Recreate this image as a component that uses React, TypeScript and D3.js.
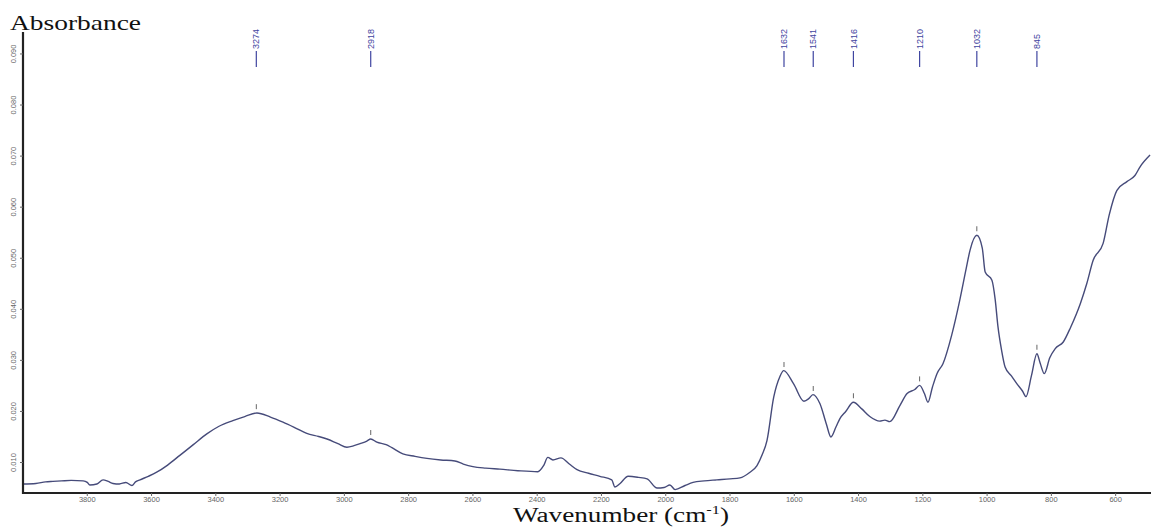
import React, { useEffect, useRef } from 'react';
import * as d3 from 'd3';

const wavenumbers = [
  4000, 3960, 3930, 3907, 3880, 3850, 3813, 3800, 3792, 3770, 3751, 3735, 3720, 3700, 3680, 3661, 3650, 3636,
  3610, 3584, 3550, 3512, 3470, 3428, 3390, 3347, 3310, 3272, 3230, 3191, 3150, 3117, 3080, 3054, 3020, 2992,
  2970, 2951, 2930, 2918, 2899, 2870, 2852, 2818, 2780, 2743, 2700, 2656, 2630, 2600, 2560, 2516, 2460, 2398,
  2380, 2367, 2351, 2326, 2300, 2276, 2240, 2205, 2168, 2158, 2142, 2117, 2085, 2058, 2027, 2005, 1987, 1971,
  1940, 1915, 1880, 1841, 1800, 1769, 1740, 1716, 1700, 1685, 1664, 1645, 1633, 1602, 1570, 1555, 1542, 1520,
  1500, 1486, 1470, 1458, 1440, 1416, 1390, 1365, 1334, 1318, 1303, 1271, 1249, 1225, 1210, 1195, 1184, 1170,
  1156, 1137, 1110, 1085, 1065, 1053, 1032, 1015, 1006, 985, 975, 966, 955, 944, 925, 907, 890, 879,
  862, 845, 835, 822, 805, 788, 763, 740, 710, 690, 670, 639, 620, 596, 565, 540, 524, 493,
];

const absorbance = [
  0.0058, 0.0059, 0.0062, 0.0063, 0.0064, 0.0065, 0.0064, 0.0061, 0.0056, 0.0058, 0.0066, 0.0063, 0.0059, 0.0058, 0.0061, 0.0055, 0.0062, 0.0066,
  0.0073, 0.0081, 0.0095, 0.0114, 0.0135, 0.0156, 0.0171, 0.0182, 0.0190, 0.0197, 0.0189, 0.0179, 0.0167, 0.0157, 0.0151, 0.0146, 0.0137, 0.0130,
  0.0133, 0.0137, 0.0142, 0.0146, 0.0140, 0.0135, 0.0129, 0.0117, 0.0112, 0.0108, 0.0105, 0.0103, 0.0097, 0.0092, 0.0089, 0.0087, 0.0084, 0.0082,
  0.0094, 0.0110, 0.0105, 0.0109, 0.0097, 0.0086, 0.0079, 0.0073, 0.0066, 0.0052, 0.0059, 0.0073, 0.0071, 0.0068, 0.0050, 0.0051, 0.0056, 0.0047,
  0.0055, 0.0061, 0.0064, 0.0066, 0.0068, 0.0070, 0.0080, 0.0094, 0.0115, 0.0143, 0.0228, 0.0268, 0.0280, 0.0254, 0.0220, 0.0225, 0.0233, 0.0215,
  0.0175, 0.0150, 0.0170, 0.0186, 0.0200, 0.0218, 0.0205, 0.0190, 0.0181, 0.0183, 0.0180, 0.0212, 0.0235, 0.0243, 0.0251, 0.0235, 0.0218, 0.0248,
  0.0274, 0.0294, 0.0350, 0.0418, 0.0480, 0.0516, 0.0545, 0.0520, 0.0473, 0.0457, 0.0420, 0.0365, 0.0320, 0.0287, 0.0270, 0.0254, 0.0240, 0.0229,
  0.0270, 0.0313, 0.0295, 0.0274, 0.0305, 0.0323, 0.0336, 0.0365, 0.0411, 0.0450, 0.0496, 0.0529, 0.0585, 0.0633, 0.0650, 0.0662, 0.0679, 0.0702,
];

const peakLabels = [3274, 2918, 1632, 1541, 1416, 1210, 1032, 845];
const xTicks = [3800, 3600, 3400, 3200, 3000, 2800, 2600, 2400, 2200, 2000, 1800, 1600, 1400, 1200, 1000, 800, 600];
const yTicks = [0.01, 0.02, 0.03, 0.04, 0.05, 0.06, 0.07, 0.08, 0.09];

const W = 1151;
const H = 527;

export default function App() {
  const ref = useRef<SVGSVGElement>(null);

  useEffect(() => {
    if (!ref.current) return;
    const svg = d3.select(ref.current);
    svg.selectAll('*').remove();

    const left = 23;
    const right = W;
    const top = 32;
    const bottom = 493;

    const x = d3.scaleLinear().domain([4000, 490]).range([left, right]);
    const y = d3.scaleLinear().domain([0.00403, 0.0943]).range([bottom, top]);

    svg.append('rect').attr('width', W).attr('height', H).attr('fill', '#fff');

    // title
    svg.append('text')
      .attr('x', 10).attr('y', 30)
      .attr('textLength', 131).attr('lengthAdjust', 'spacingAndGlyphs')
      .style('font-family', '"Liberation Serif", "Times New Roman", serif')
      .style('font-size', '22px')
      .style('fill', '#111')
      .text('Absorbance');

    // x label
    const xl = svg.append('text')
      .attr('x', 513).attr('y', 522)
      .attr('textLength', 216).attr('lengthAdjust', 'spacingAndGlyphs')
      .style('font-family', '"Liberation Serif", "Times New Roman", serif')
      .style('font-size', '20px')
      .style('fill', '#111');
    xl.append('tspan').text('Wavenumber (cm');
    xl.append('tspan').attr('dy', -8).style('font-size', '12px').text('-1');
    xl.append('tspan').attr('dy', 8).text(')');

    // spectrum
    const pts: [number, number][] = wavenumbers.map((w, i) => [w, absorbance[i]]);
    const line = d3.line<[number, number]>()
      .x(d => x(d[0]))
      .y(d => y(d[1]))
      .curve(d3.curveMonotoneX);
    svg.append('path')
      .datum(pts)
      .attr('d', line)
      .attr('fill', 'none')
      .attr('stroke', '#464b7a')
      .attr('stroke-width', 1.4);

    // axes
    const axisColor = '#222';
    svg.append('line')
      .attr('x1', left).attr('x2', left).attr('y1', top).attr('y2', bottom + 1)
      .attr('stroke', axisColor).attr('stroke-width', 2.2);
    svg.append('line')
      .attr('x1', left - 1).attr('x2', right).attr('y1', bottom).attr('y2', bottom)
      .attr('stroke', axisColor).attr('stroke-width', 2.2);

    const tickFont = '"Liberation Sans Narrow", "Liberation Sans", Arial, sans-serif';

    xTicks.forEach(t => {
      svg.append('line')
        .attr('x1', x(t)).attr('x2', x(t)).attr('y1', bottom).attr('y2', bottom + 3)
        .attr('stroke', '#666').attr('stroke-width', 1);
      svg.append('text')
        .attr('x', x(t)).attr('y', 502)
        .attr('text-anchor', 'middle')
        .style('font-family', tickFont)
        .style('font-size', '7.5px')
        .style('fill', '#666')
        .text(String(t));
    });

    yTicks.forEach(t => {
      svg.append('line')
        .attr('x1', left - 3).attr('x2', left).attr('y1', y(t)).attr('y2', y(t))
        .attr('stroke', '#666').attr('stroke-width', 1);
      svg.append('text')
        .attr('transform', `translate(13, ${y(t)}) rotate(-90)`)
        .attr('text-anchor', 'middle')
        .attr('dy', '0.35em')
        .style('font-family', tickFont)
        .style('font-size', '7.5px')
        .style('fill', '#666')
        .text(t.toFixed(3));
    });

    // peak annotations
    const interp = (w: number) => {
      for (let i = 0; i < wavenumbers.length - 1; i++) {
        const a = wavenumbers[i];
        const b = wavenumbers[i + 1];
        if (w <= a && w >= b) {
          const f = (a - w) / (a - b);
          return absorbance[i] + f * (absorbance[i + 1] - absorbance[i]);
        }
      }
      return absorbance[absorbance.length - 1];
    };

    const labelColor = '#3f45a0';
    peakLabels.forEach(p => {
      const px = x(p);
      svg.append('line')
        .attr('x1', px).attr('x2', px).attr('y1', 51).attr('y2', 67)
        .attr('stroke', labelColor).attr('stroke-width', 1.2);
      svg.append('text')
        .attr('transform', `translate(${px}, 49) rotate(-90)`)
        .attr('text-anchor', 'start')
        .attr('dy', '0.35em')
        .style('font-family', tickFont)
        .style('font-size', '9px')
        .style('fill', labelColor)
        .text(String(p));
      const py = y(interp(p));
      svg.append('line')
        .attr('x1', px).attr('x2', px).attr('y1', py - 9).attr('y2', py - 4)
        .attr('stroke', '#666').attr('stroke-width', 1);
    });
  }, []);

  return (
    <svg
      ref={ref}
      width={W}
      height={H}
      style={{ position: 'absolute', left: 0, top: 0, display: 'block' }}
    />
  );
}
